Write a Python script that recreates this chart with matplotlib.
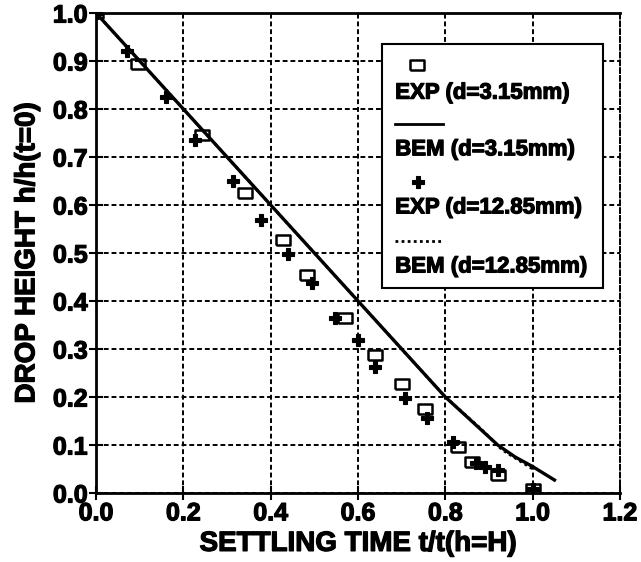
import matplotlib
matplotlib.use('Agg')
import matplotlib.pyplot as plt
import matplotlib.patheffects as pe
from matplotlib.patches import Rectangle

plt.rcParams['font.family'] = ['Liberation Sans', 'DejaVu Sans']
plt.rcParams['font.weight'] = 'bold'

# EXP d=3.15mm (open squares)
exp_small_t = [0.0, 0.097, 0.242, 0.341, 0.429, 0.483, 0.570, 0.638, 0.700, 0.753, 0.829, 0.860, 0.921, 1.0]
exp_small_h = [1.0, 0.894, 0.746, 0.626, 0.527, 0.455, 0.364, 0.288, 0.227, 0.175, 0.096, 0.065, 0.038, 0.008]

# EXP d=12.85mm (filled crosses)
exp_large_t = [0.0, 0.070, 0.160, 0.227, 0.314, 0.378, 0.440, 0.494, 0.547, 0.600, 0.638, 0.707, 0.757,
               0.818, 0.870, 0.890, 0.921, 1.0]
exp_large_h = [1.0, 0.921, 0.824, 0.735, 0.649, 0.569, 0.498, 0.437, 0.364, 0.319, 0.263, 0.197, 0.156,
               0.107, 0.062, 0.054, 0.048, 0.008]

# BEM d=3.15mm (solid line)
bem_small_t = [0.0, 0.1, 0.2, 0.3, 0.4, 0.5, 0.6, 0.7, 0.8, 0.86, 0.92, 0.96, 1.0, 1.05]
bem_small_h = [1.0, 0.9, 0.8, 0.7, 0.6, 0.5, 0.4, 0.3, 0.2, 0.15, 0.10, 0.075, 0.055, 0.027]

# BEM d=12.85mm (dotted line)
bem_large_t = [0.0, 0.2, 0.4, 0.6, 0.8, 0.88, 0.93, 1.0]
bem_large_h = [1.0, 0.8, 0.6, 0.4, 0.2, 0.135, 0.09, 0.05]

x_ticks = [0.0, 0.2, 0.4, 0.6, 0.8, 1.0, 1.2]
y_ticks = [0.0, 0.1, 0.2, 0.3, 0.4, 0.5, 0.6, 0.7, 0.8, 0.9, 1.0]

rect_marker = [(-1, -0.72), (1, -0.72), (1, 0.72), (-1, 0.72), (-1, -0.72)]
heavy = [pe.withStroke(linewidth=0.9, foreground='black')]

fig = plt.figure(figsize=(6.41, 5.62), dpi=100, facecolor='white')
ax = fig.add_axes([0.1498, 0.1228, 0.8174, 0.8541])

ax.plot(bem_large_t, bem_large_h, color='black', lw=2, linestyle=(0, (1, 1.2)), zorder=3)
ax.plot(bem_small_t, bem_small_h, color='black', lw=2.4, zorder=4)
ax.plot(exp_large_t, exp_large_h, linestyle='none', marker='P', markersize=9,
        color='black', markeredgewidth=0.8, zorder=5)
ax.plot(exp_small_t, exp_small_h, linestyle='none', marker=rect_marker, markersize=9.5,
        markerfacecolor='none', markeredgecolor='black', markeredgewidth=1.8, zorder=6)

ax.set_xlim(0, 1.2)
ax.set_ylim(0, 1.0)
ax.set_xticks(x_ticks)
ax.set_yticks(y_ticks)
ax.set_xticklabels(['%.1f' % v for v in x_ticks])
ax.set_yticklabels(['%.1f' % v for v in y_ticks])
ax.tick_params(direction='inout', length=10, width=1.5, labelsize=18, pad=1)
for lab in ax.get_xticklabels() + ax.get_yticklabels():
    lab.set_path_effects(heavy)
ax.grid(True, color='black', lw=1.4, linestyle=(0, (2.5, 1.5)))
ax.set_axisbelow(True)

for side in ['left', 'bottom', 'top']:
    ax.spines[side].set_linewidth(2)
ax.spines['right'].set_linewidth(1.4)
ax.spines['right'].set_linestyle((0, (2.5, 1.5)))

xl = ax.set_xlabel('SETTLING TIME t/t(h=H)', fontsize=20, fontweight='bold', labelpad=4)
yl = ax.set_ylabel('DROP HEIGHT h/h(t=0)', fontsize=20, fontweight='bold', labelpad=9)
xl.set_path_effects(heavy)
yl.set_path_effects(heavy)

# legend box: marker sample on one line, label on the next
ax.add_patch(Rectangle((0.546, 0.427), 0.4216, 0.508, transform=ax.transAxes,
                       facecolor='white', edgecolor='black', lw=1.5, zorder=10))
tr = ax.transAxes
ax.plot([0.613], [0.892], transform=tr, linestyle='none', marker=rect_marker, markersize=9.5,
        markerfacecolor='none', markeredgecolor='black', markeredgewidth=1.8, zorder=11, clip_on=False)
ax.plot([0.571, 0.662], [0.769, 0.769], transform=tr, color='black', lw=2, zorder=11)
ax.plot([0.615], [0.648], transform=tr, linestyle='none', marker='P', markersize=9,
        color='black', markeredgewidth=0.8, zorder=11)
ax.plot([0.571, 0.662], [0.525, 0.525], transform=tr, color='black', lw=2,
        linestyle=(0, (1, 1.2)), zorder=11)
labels = ['EXP (d=3.15mm)', 'BEM (d=3.15mm)', 'EXP (d=12.85mm)', 'BEM (d=12.85mm)']
label_y = [0.833, 0.715, 0.594, 0.471]
for lab, yy in zip(labels, label_y):
    ax.text(0.571, yy, lab, transform=tr, fontsize=16, fontweight='bold',
            va='center', ha='left', zorder=12, path_effects=heavy)

fig.savefig('out.png', dpi=100)
